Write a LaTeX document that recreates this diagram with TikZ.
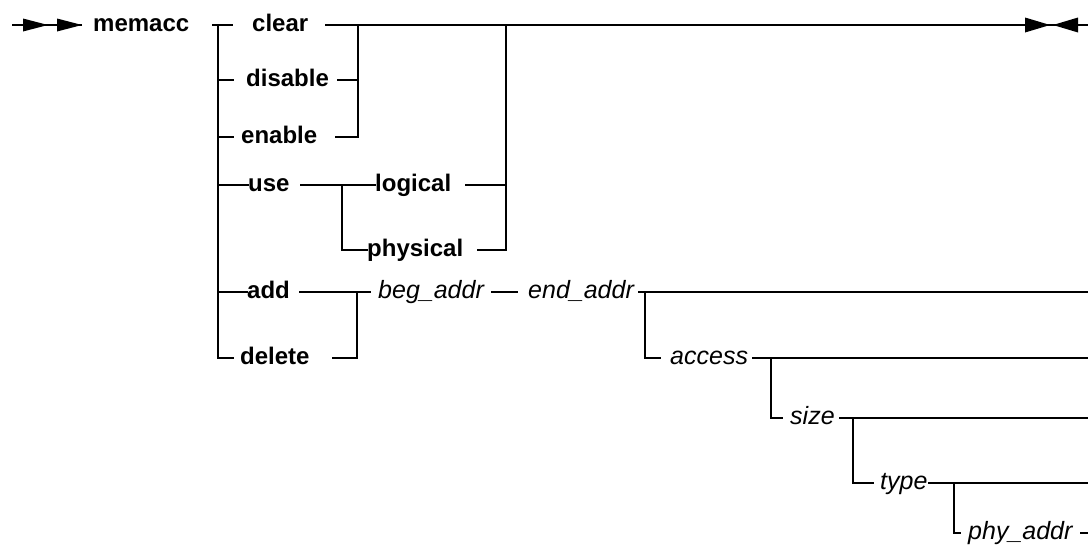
\documentclass[tikz,border=0pt]{standalone}
\usepackage{fontspec}
\setmainfont{Liberation Sans}
\tikzset{
  kw/.style={font=\fontsize{24}{28}\selectfont\bfseries, inner sep=0pt, anchor=west, text height=20pt, text depth=7.6pt},
  var/.style={font=\fontsize{25}{29}\selectfont\itshape, inner sep=0pt, anchor=west, text height=20pt, text depth=7pt},
  rail/.style={line width=1.3pt, line cap=rect},
  mainrail/.style={line width=2pt},
  tipfill/.style={fill=black}
}
\begin{document}
\begin{tikzpicture}[x=1pt,y=-1pt]
\useasboundingbox (0,0) rectangle (1088,546);
% coordinates
\coordinate (s0) at (12,25);
\coordinate (e0) at (1088,25);
\coordinate (jL) at (218,25);
\coordinate (jLb) at (218,358);
\coordinate (jR1) at (358,25);
\coordinate (jR2) at (506,25);
\coordinate (jU) at (342,185);
\coordinate (jA) at (357,292);
\coordinate (jE) at (645,292);
\coordinate (eE) at (1088,292);
\coordinate (jAc) at (771,358);
\coordinate (eAc) at (1088,358);
\coordinate (jS) at (853,418);
\coordinate (eS) at (1088,418);
\coordinate (jT) at (954,483);
\coordinate (eT) at (1088,483);
\coordinate (eP) at (1088,533);
% texts
\node[kw] (memacc) at (93,25) {memacc};
\node[kw] (clear) at (252,25) {clear};
\node[kw] (disable) at (246,80) {disable};
\node[kw] (enable) at (241,137) {enable};
\node[kw] (use) at (248,185) {use};
\node[kw] (logical) at (375,185) {logical};
\node[kw] (physical) at (367,250) {physical};
\node[kw] (add) at (247,292) {add};
\node[kw] (delete) at (240,358) {delete};
\node[var] (beg) at (378,292) {beg\_addr};
\node[var] (endaddr) at (528,292) {end\_addr};
\node[var] (access) at (670,358) {access};
\node[var] (size) at (790,418) {size};
\node[var] (type) at (880,483) {type};
\node[var] (phy) at (968,533) {phy\_addr};
% main line
\draw[mainrail] (s0) -- ([xshift=-11pt]memacc.west);
\fill[tipfill] (23,18.5) -- (48,25) -- (23,31.5) -- cycle;
\fill[tipfill] (57,18.5) -- (82,25) -- (57,31.5) -- cycle;
\draw[mainrail] ([xshift=-6pt]jL) -- ([xshift=-19pt]clear.west);
\draw[mainrail] ([xshift=17pt]clear.east) -- (e0);
\fill[tipfill] (1025,17.5) -- (1050,25) -- (1025,32.5) -- cycle;
\fill[tipfill] (1078,17.5) -- (1053,25) -- (1078,32.5) -- cycle;
% left choice bar
\draw[rail] (jL) -- (jLb) -- ([xshift=-7pt]delete.west);
\draw[rail] (jL |- disable.west) -- ([xshift=-13pt]disable.west);
\draw[rail] (jL |- enable.west) -- ([xshift=-8pt]enable.west);
\draw[rail] (jL |- use.west) -- (use.west);
\draw[rail] (jL |- add.west) -- (add.west);
% disable / enable return
\draw[rail] (jR1) -- (jR1 |- enable.west) -- ([xshift=18pt]enable.east);
\draw[rail] ([xshift=9pt]disable.east) -- (jR1 |- disable.west);
% use
\draw[rail] ([xshift=11pt]use.east) -- (jU) -- (logical.west);
\draw[rail] (jU) -- (jU |- physical.west) -- (physical.west);
\draw[rail] (jR2) -- (jR2 |- physical.west) -- ([xshift=14pt]physical.east);
\draw[rail] ([xshift=14pt]logical.east) -- (jR2 |- logical.west);
% add / delete
\draw[rail] ([xshift=10pt]add.east) -- (jA) -- ([xshift=-8pt]beg.west);
\draw[rail] (jA) -- (jA |- delete.west) -- ([xshift=23pt]delete.east);
\draw[rail] ([xshift=8pt]beg.east) -- ([xshift=-11pt]endaddr.west);
\draw[rail] ([xshift=5pt]endaddr.east) -- (eE);
\draw[rail] (jE) -- (jE |- access.west) -- ([xshift=-10pt]access.west);
% access
\draw[rail] ([xshift=4pt]access.east) -- (eAc);
\draw[rail] (jAc) -- (jAc |- size.west) -- ([xshift=-8pt]size.west);
% size
\draw[rail] ([xshift=5pt]size.east) -- (eS);
\draw[rail] (jS) -- (jS |- type.west) -- ([xshift=-7pt]type.west);
% type
\draw[rail] ([xshift=1pt]type.east) -- (eT);
\draw[rail] (jT) -- (jT |- phy.west) -- ([xshift=-8pt]phy.west);
% phy_addr
\draw[rail] ([xshift=8pt]phy.east) -- (eP);
\end{tikzpicture}
\end{document}
